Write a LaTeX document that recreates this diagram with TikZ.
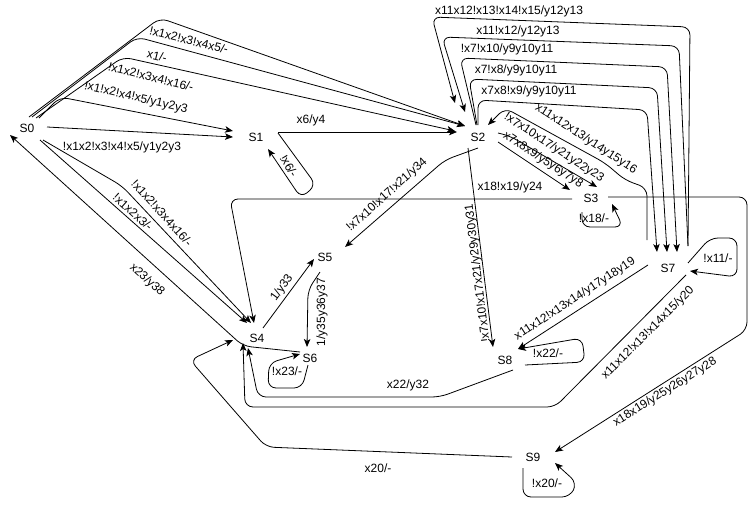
\documentclass[tikz,border=0pt]{standalone}
\usepackage{fontspec}
\setmainfont{Liberation Sans}
\usetikzlibrary{arrows.meta,calc}
\begin{document}
\begin{tikzpicture}[x=1pt,y=-1pt,
  st/.style={font=\fontsize{12}{14}\selectfont, inner sep=0pt},
  lb/.style={font=\fontsize{12}{14}\selectfont, inner sep=0pt},
  ed/.style={draw, line width=0.8pt, rounded corners=8pt, -{Stealth[length=8pt,width=6.5pt,inset=2pt]}},
  ln/.style={draw, line width=0.8pt, rounded corners=8pt}]
\useasboundingbox (0,0) rectangle (756,506);
\fill[white] (0,0) rectangle (756,506);
% states
\node[st] (S0) at (27,128) {S0};
\node[st] (S1) at (256,137) {S1};
\node[st] (S2) at (478,137) {S2};
\node[st] (S3) at (591,198) {S3};
\node[st] (S4) at (257,338) {S4};
\node[st] (S5) at (325,257) {S5};
\node[st] (S6) at (310,358) {S6};
\node[st] (S7) at (668,268) {S7};
\node[st] (S8) at (505,360) {S8};
\node[st] (S9) at (533,457) {S9};
% S0 fan to S2 / S1
\draw[ed] ($(S0)+(2,-11)$) -- (160,18) -- ($(S2)+(-13,-11)$);
\draw[ed] ($(S0)+(5,-11)$) -- (137,37) -- ($(S2)+(-13,-11)$);
\draw[ed] ($(S0)+(9,-10)$) -- (123,57) -- ($(S2)+(-23,-6)$);
\draw[ed] ($(S0)+(12,-10)$) -- (60,97) -- ($(S1)+(-23,-6)$);
\draw[ed] ($(S0)+(20,-1)$) -- ($(S1)+(-23,0)$);
% S0 to S4
\draw[ed] ($(S0)+(13,12)$) -- ($(S4)+(-10,-15)$);
\draw[ed] ($(S0)+(16,12)$) -- (122,186) -- ($(S4)+(-6,-15)$);
% S1
\draw[ed] ($(S1)+(22,-5)$) -- ($(S2)+(-21,-5)$);
\draw[ed] ($(S1)+(22,-4)$) -- (316,185) -- (301,198) -- ($(S1)+(12,12)$);
% S2 to S3
\draw[ed] ($(S2)+(20,5)$) -- ($(S3)+(-21,-8)$);
\draw[ed] ($(S2)+(20,-4)$) -- (510,136) -- ($(S3)+(6,-11)$);
% S7 to S2 curve
\draw[ed] ($(S7)+(-21,-28)$) -- (647,188) -- (625,180) -- (605,163) -- (505,108) -- ($(S2)+(10,-12)$);
% S2 to S7 loops
\draw[ed] ($(S2)+(-2,-12)$) -- (460,58) -- (667,67) -- ($(S7)+(9,-16)$);
\draw[ed] ($(S2)+(-1,-12)$) -- (469,79) -- (657,88) -- ($(S7)+(-1,-16)$);
\draw[ed] ($(S2)+(0,-12)$) -- (478,100) -- (647,110) -- ($(S7)+(-11,-16)$);
% S7 to S2 outer loops
\draw[ed] ($(S7)+(20,-22)$) -- (690,27) -- (432,17) -- ($(S2)+(-23,-34)$);
\draw[ed] ($(S7)+(20,-22)$) -- (679,46) -- (442,37) -- ($(S2)+(-13,-25)$);
% S2 to S5, S8
\draw[ed] ($(S2)+(0,11)$) -- (445,160) -- ($(S5)+(20,-10)$);
\draw[ed] ($(S2)+(-10,11)$) -- ($(S8)+(-12,-13)$);
% S3
\draw[ed] ($(S3)+(-19,1)$) -- (230,199) -- ($(S4)+(-3,-15)$);
\draw[ed] ($(S3)+(-9,14)$) -- (582,227) -- (623,227) -- ($(S3)+(21,6)$);
\draw[ed] ($(S3)+(17,-1)$) -- (747,197) -- (747,330) -- ($(S9)+(22,-5)$);
% S7
\draw[ed] ($(S7)+(-20,-3)$) -- ($(S8)+(13,-11)$);
\draw[ed] ($(S7)+(18,7)$) -- (555,407) -- (245,407) -- ($(S4)+(-14,5)$);
\draw[ed] ($(S7)+(20,-5)$) -- (710,238) -- (737,238) -- (737,277) -- ($(S7)+(22,3)$);
% S8
\draw[ed] ($(S8)+(8,10)$) -- (440,397) -- (258,397) -- ($(S4)+(-9,10)$);
\draw[ed] ($(S8)+(20,5)$) -- (585,362) -- (582,338) -- ($(S8)+(13,-11)$);
% S9
\draw[ed] ($(S9)+(-10,11)$) -- (523,497) -- (570,497) -- (577,483) -- ($(S9)+(22,6)$);
\draw[ed] ($(S9)+(-21,0)$) -- (266,447) -- (190,360) -- ($(S4)+(-24,2)$);
% S4, S5, S6
\draw[ed] ($(S4)+(6,-10)$) -- ($(S5)+(-11,2)$);
\draw[ed] ($(S5)+(-5,15)$) -- (308,290) -- ($(S6)+(-3,-11)$);
\draw[ed] ($(S6)+(-10,-6)$) -- (243,346) -- ($(S0)+(-17,7)$);
\draw[ed] ($(S6)+(-2,7)$) -- (302,388) -- (268,388) -- (269,363) -- ($(S6)+(-10,-4)$);
% labels
\node[lb, rotate=-14] (L1) at (189,40) {!x1x2!x3!x4x5/-};
\node[lb, rotate=-14] (L2) at (157,56) {x1/-};
\node[lb, rotate=-14] (L3) at (151,77) {!x1x2!x3x4!x16/-};
\node[lb, rotate=-13] (L4) at (136,98) {!x1!x2!x4!x5/y1y2y3};
\node[lb] (L5) at (122,147) {!x1x2!x3!x4!x5/y1y2y3};
\node[lb] (L6) at (311,120) {x6/y4};
\node[lb, rotate=-60] (L7) at (289,166) {!x6/-};
\node[lb, rotate=-33] (L8) at (543,160) {x7x8x9/y5y6y7y8};
\node[lb, rotate=-33] (L9) at (554,148) {!x7x10x17/y21y22y23};
\node[lb, rotate=-33] (L10) at (586,139) {x11x12x13/y14y15y16};
\node[lb] (L11a) at (509,11) {x11x12!x13!x14!x15/y12y13};
\node[lb] (L11b) at (518,31) {x11!x12/y12y13};
\node[lb] (L11c) at (507,49) {!x7!x10/y9y10y11};
\node[lb] (L11d) at (516,70) {x7!x8/y9y10y11};
\node[lb] (L11e) at (529,91) {x7x8!x9/y9y10y11};
\node[lb, rotate=42] (L13) at (387,195) {!x7x10!x17!x21/y34};
\node[lb, rotate=97] (L14) at (478,273) {!x7x10!x17x21/y29y30y31};
\node[lb] (L15) at (510,187) {x18!x19/y24};
\node[lb] (L16) at (594,218) {!x18/-};
\node[lb, rotate=32] (L17) at (665,392) {x18x19/y25y26y27y28};
\node[lb, rotate=33] (L18) at (575,299) {x11x12!x13x14/y17y18y19};
\node[lb, rotate=45] (L19) at (648,333) {x11x12!x13!x14x15/y20};
\node[lb] (L20) at (408,385) {x22/y32};
\node[lb] (L21) at (548,353) {!x22/-};
\node[lb] (L22) at (718,258) {!x11/-};
\node[lb] (L23) at (547,483) {!x20/-};
\node[lb] (L24) at (378,468) {x20/-};
\node[lb, rotate=54] (L25) at (282,288) {1/y33};
\node[lb, rotate=90] (L26) at (322,312) {1/y35y36y37};
\node[lb, rotate=-42] (L27) at (147,280) {x23/y38};
\node[lb] (L28) at (287,371) {!x23/-};
\node[lb, rotate=-42] (L29) at (133,212) {!x1x2x3/-};
\node[lb, rotate=-48] (L30) at (162,213) {!x1x2!x3x4x16/-};
\end{tikzpicture}
\end{document}
